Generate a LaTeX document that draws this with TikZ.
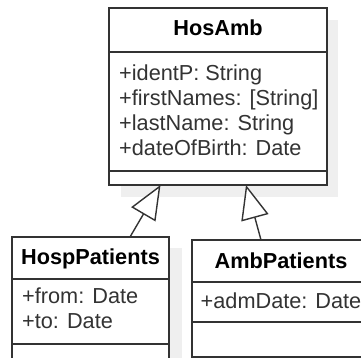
\documentclass[tikz,border=0pt]{standalone}
\usepackage{fontspec}
\setmainfont{Liberation Sans}
\usetikzlibrary{arrows.meta}
\definecolor{edge}{HTML}{333333}
\definecolor{attr}{HTML}{333333}
\definecolor{shadowgray}{HTML}{EFEFEF}
\begin{document}
\begin{tikzpicture}[x=1pt,y=-1pt,
  compart/.style={draw=edge, line width=1.4pt, fill=white, anchor=north west,
    inner sep=0pt, outer sep=0pt},
  title/.style={anchor=base, inner sep=0pt, font=\fontsize{21.7}{25}\selectfont\bfseries},
  member/.style={anchor=base west, inner sep=0pt, text=attr, font=\fontsize{21.7}{25}\selectfont},
  gen/.style={draw=edge, line width=1.4pt,
    -{Triangle[open, length=34pt, width=28pt, fill=white, line width=1.4pt]}}
]
\useasboundingbox (0,0) rectangle (361,358);
\clip (0,0) rectangle (361,358);

% drop shadows
\fill[shadowgray] (121,20) rectangle (338,197);
\fill[shadowgray] (24,248) rectangle (182,370);

% class HosAmb
\node[compart, minimum width=218pt, minimum height=44pt]  (hosamb-head)  at (109,8)   {};
\node[compart, minimum width=218pt, minimum height=119pt] (hosamb-attrs) at (109,52)  {};
\node[compart, minimum width=218pt, minimum height=14pt]  (hosamb-ops)   at (109,171) {};
\node[title] (hosamb-name) at (218,36) {HosAmb};
\node[member] (hosamb-a1) at (119,81)  {+identP: String};
\node[member] (hosamb-a2) at (119,106) {+firstNames: [String]};
\node[member] (hosamb-a3) at (119,131) {+lastName: String};
\node[member] (hosamb-a4) at (119,156) {+dateOfBirth: Date};

% class HospPatients
\node[compart, minimum width=157pt, minimum height=42pt] (hosp-head)  at (12,237) {};
\node[compart, minimum width=157pt, minimum height=65pt] (hosp-attrs) at (12,279) {};
\node[compart, minimum width=157pt, minimum height=30pt] (hosp-ops)   at (12,344) {};
\node[title] (hosp-name) at (90.5,264.5) {HospPatients};
\node[member] (hosp-a1) at (22,303.5) {+from: Date};
\node[member] (hosp-a2) at (22,328.5) {+to: Date};

% class AmbPatients
\node[compart, minimum width=178pt, minimum height=42pt] (amb-head)  at (192,240) {};
\node[compart, minimum width=178pt, minimum height=40pt] (amb-attrs) at (192,282) {};
\node[compart, minimum width=178pt, minimum height=35pt] (amb-ops)   at (192,322) {};
\node[title] (amb-name) at (281,268) {AmbPatients};
\node[member] (amb-a1) at (200.5,308) {+admDate: Date};

% generalisations
\draw[gen] ([xshift=39.5pt]hosp-head.north) -- ([xshift=-57.5pt]hosamb-ops.south);
\draw[gen] ([xshift=-20pt]amb-head.north) -- ([xshift=28pt]hosamb-ops.south);
\end{tikzpicture}
\end{document}
